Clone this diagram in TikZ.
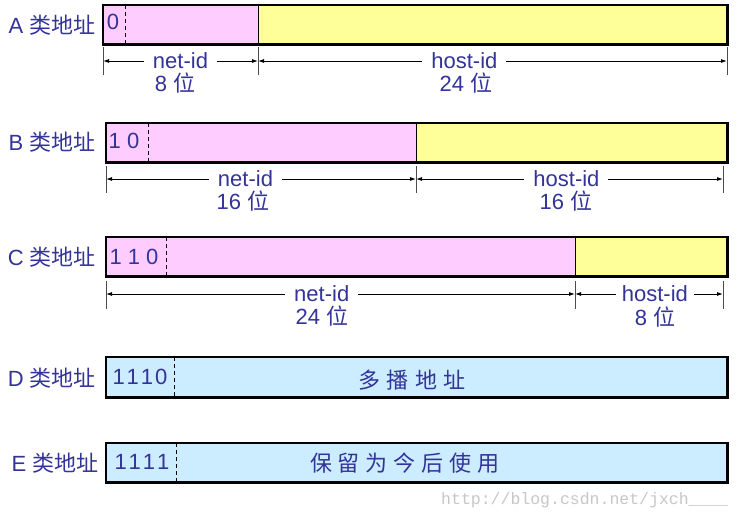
\documentclass[tikz,border=0pt]{standalone}
\usepackage{fontspec}
\setmainfont{Liberation Sans}
\newfontfamily\cjk{Noto Sans CJK SC}
\newfontfamily\wmfont{Liberation Mono}
\usetikzlibrary{arrows.meta}
\definecolor{textblue}{RGB}{51,51,153}
\definecolor{pinkfill}{RGB}{255,204,255}
\definecolor{yellowfill}{RGB}{255,255,153}
\definecolor{bluefill}{RGB}{204,236,255}
\begin{document}
\begin{tikzpicture}[x=1pt,y=-1pt,
  font=\fontsize{22}{25}\selectfont,
  every node/.style={text=textblue, inner sep=0pt},
  field/.style={anchor=north west, draw=none, minimum height=39pt},
  frame/.style={draw=black, line width=2.4pt},
  divider/.style={draw=black, line width=1.3pt},
  dashline/.style={draw=black, line width=1pt, dash pattern=on 4pt off 3pt},
  tickline/.style={draw=black!70, line width=1pt},
  dimline/.style={draw=black, line width=0.9pt, {Latex[length=6pt,width=4pt]}-{Latex[length=6pt,width=4pt]}},
  dimlabel/.style={fill=white, inner xsep=9pt, inner ysep=1pt},
  rowlabel/.style={anchor=center},
]
\useasboundingbox (0,0) rectangle (742,520);
\fill[white] (0,0) rectangle (742,520);

% ---------------- A ----------------
\node[rowlabel] (la) at (52,25) {A {\cjk 类地址}};
\node[field, fill=pinkfill, minimum width=155pt] (a1) at (103,5) {};
\node[field, fill=yellowfill, minimum width=469pt] (a2) at (258,5) {};
\draw[divider] (a1.north east) -- (a1.south east);
\coordinate (ad1) at (125,5); \coordinate (ad2) at (125,44);
\draw[dashline] (ad1) -- (ad2);
\node (abits) at (113,22) {0};
\draw[frame] (a1.north west) rectangle (a2.south east);
\coordinate (at1) at (103,47); \coordinate (ab1) at (103,75);
\coordinate (at2) at (258,47); \coordinate (ab2) at (258,75);
\coordinate (at3) at (727,47); \coordinate (ab3) at (727,75);
\draw[tickline] (at1) -- (ab1); \draw[tickline] (at2) -- (ab2); \draw[tickline] (at3) -- (ab3);
\coordinate (aa1) at (103,61); \coordinate (aa2) at (258,61); \coordinate (aa3) at (727,61);
\draw[dimline] (aa1) -- node[dimlabel, pos=0.5] (anet) {net-id} (aa2);
\draw[dimline] (aa2) -- node[dimlabel, pos=0.44] (ahost) {host-id} (aa3);
\node (anetb) at (175,83) {8 {\cjk 位}};
\node (ahostb) at (466,83) {24 {\cjk 位}};

% ---------------- B ----------------
\node[rowlabel] (lb) at (52,142) {B {\cjk 类地址}};
\node[field, fill=pinkfill, minimum width=310pt] (b1) at (106,123) {};
\node[field, fill=yellowfill, minimum width=311pt] (b2) at (416,123) {};
\draw[divider] (b1.north east) -- (b1.south east);
\coordinate (bd1) at (148,123); \coordinate (bd2) at (148,162);
\draw[dashline] (bd1) -- (bd2);
\node (bbits) at (124,141) {1 0};
\draw[frame] (b1.north west) rectangle (b2.south east);
\coordinate (bt1) at (106,166); \coordinate (bb1) at (106,193);
\coordinate (bt2) at (416,166); \coordinate (bb2) at (416,193);
\coordinate (bt3) at (723,166); \coordinate (bb3) at (723,193);
\draw[tickline] (bt1) -- (bb1); \draw[tickline] (bt2) -- (bb2); \draw[tickline] (bt3) -- (bb3);
\coordinate (ba1) at (106,179); \coordinate (ba2) at (416,179); \coordinate (ba3) at (723,179);
\draw[dimline] (ba1) -- node[dimlabel, pos=0.45] (bnet) {net-id} (ba2);
\draw[dimline] (ba2) -- node[dimlabel, pos=0.49] (bhost) {host-id} (ba3);
\node (bnetb) at (243,201) {16 {\cjk 位}};
\node (bhostb) at (566,201) {16 {\cjk 位}};

% ---------------- C ----------------
\node[rowlabel] (lc) at (52,257) {C {\cjk 类地址}};
\node[field, fill=pinkfill, minimum width=469pt] (c1) at (106,237) {};
\node[field, fill=yellowfill, minimum width=152pt] (c2) at (575,237) {};
\draw[divider] (c1.north east) -- (c1.south east);
\coordinate (cd1) at (166,237); \coordinate (cd2) at (166,276);
\draw[dashline] (cd1) -- (cd2);
\node (cbits) at (134,257) {1 1 0};
\draw[frame] (c1.north west) rectangle (c2.south east);
\coordinate (ct1) at (106,281); \coordinate (cb1) at (106,309);
\coordinate (ct2) at (575,281); \coordinate (cb2) at (575,309);
\coordinate (ct3) at (723,281); \coordinate (cb3) at (723,309);
\draw[tickline] (ct1) -- (cb1); \draw[tickline] (ct2) -- (cb2); \draw[tickline] (ct3) -- (cb3);
\coordinate (ca1) at (106,294); \coordinate (ca2) at (575,294); \coordinate (ca3) at (723,294);
\draw[dimline] (ca1) -- node[dimlabel, pos=0.46] (cnet) {net-id} (ca2);
\draw[dimline] (ca2) -- node[dimlabel, pos=0.54, inner xsep=6pt] (chost) {host-id} (ca3);
\node (cnetb) at (322,316) {24 {\cjk 位}};
\node (chostb) at (655,317) {8 {\cjk 位}};

% ---------------- D ----------------
\node[rowlabel] (ld) at (52,378) {D {\cjk 类地址}};
\node[field, fill=bluefill, minimum width=621pt, minimum height=40pt] (d1) at (106,357) {};
\coordinate (dd1) at (174,357); \coordinate (dd2) at (174,397);
\draw[dashline] (dd1) -- (dd2);
\node (dbits) at (140,377) {1\kern2pt 1\kern2pt 1\kern2pt 0};
\node (dtext) at (412,380) {\cjk 多\kern6.5pt 播\kern6.5pt 地\kern6.5pt 址};
\draw[frame] (d1.north west) rectangle (d1.south east);

% ---------------- E ----------------
\node[rowlabel] (le) at (55,463) {E {\cjk 类地址}};
\node[field, fill=bluefill, minimum width=621pt] (e1) at (106,443) {};
\coordinate (ed1) at (176,443); \coordinate (ed2) at (176,482);
\draw[dashline] (ed1) -- (ed2);
\node (ebits) at (142,462) {1\kern2pt 1\kern2pt 1\kern2pt 1};
\node (etext) at (405,463) {\cjk 保\kern6pt 留\kern6pt 为\kern6pt 今\kern6pt 后\kern6pt 使\kern6pt 用};
\draw[frame] (e1.north west) rectangle (e1.south east);

% watermark
\node[text=black!22, font=\wmfont\fontsize{16.5}{18}\selectfont, anchor=west] (wm) at (441,500) {http://blog.csdn.net/jxch\_\_\_\_};
\end{tikzpicture}
\end{document}
